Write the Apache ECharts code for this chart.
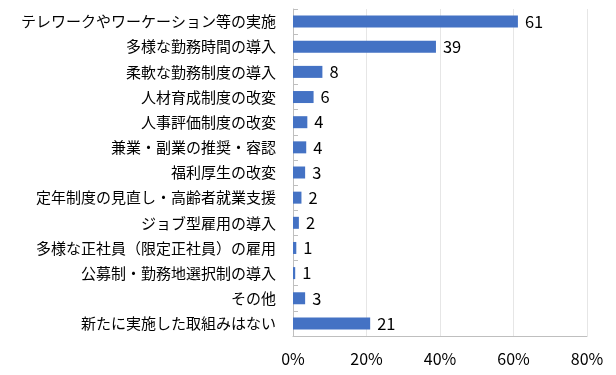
<!DOCTYPE html>
<html><head><meta charset="utf-8">
<script src="https://cdn.jsdelivr.net/npm/echarts@6/dist/echarts.min.js"></script>
<style>html,body{margin:0;padding:0;background:#fff}#c{width:616px;height:375px}</style>
</head><body><div id="c"></div>
<script>
const categories = [
  "テレワークやワーケーション等の実施",
  "多様な勤務時間の導入",
  "柔軟な勤務制度の導入",
  "人材育成制度の改変",
  "人事評価制度の改変",
  "兼業・副業の推奨・容認",
  "福利厚生の改変",
  "定年制度の見直し・高齢者就業支援",
  "ジョブ型雇用の導入",
  "多様な正社員（限定正社員）の雇用",
  "公募制・勤務地選択制の導入",
  "その他",
  "新たに実施した取組みはない"
];
const values = [61.2, 38.9, 8.0, 5.6, 3.9, 3.6, 3.3, 2.3, 1.6, 0.9, 0.6, 3.3, 21.0];
const labels = [61, 39, 8, 6, 4, 4, 3, 2, 2, 1, 1, 3, 21];
const xTicks = [0, 20, 40, 60, 80];

const font = '"Noto Sans CJK JP", "Noto Sans", sans-serif';
const chart = echarts.init(document.getElementById('c'));
chart.setOption({
  animation: false,
  grid: {left: 293, right: 29, top: 9, bottom: 39, containLabel: false},
  xAxis: {
    type: 'value', min: xTicks[0], max: xTicks[xTicks.length - 1], interval: 20,
    axisLine: {show: true, lineStyle: {color: '#bfbfbf', width: 1}},
    axisTick: {show: false},
    splitLine: {show: true, lineStyle: {color: '#e6e6e6', width: 1}},
    axisLabel: {formatter: v => v + '%', color: '#000', fontSize: 16, fontFamily: font, margin: 15}
  },
  yAxis: {
    type: 'category', data: categories, inverse: true,
    axisLine: {show: true, lineStyle: {color: '#bfbfbf', width: 1}},
    axisTick: {show: true, inside: true, length: 5, lineStyle: {color: '#bfbfbf'}},
    axisLabel: {color: '#000', fontSize: 15, fontFamily: font, margin: 17}
  },
  series: [{
    type: 'bar',
    data: values,
    barWidth: 12,
    itemStyle: {color: '#4472C4'},
    label: {
      show: true, position: 'right', distance: 7,
      color: '#000', fontSize: 16.5, fontFamily: font,
      formatter: p => String(labels[p.dataIndex])
    }
  }]
});
</script></body></html>
